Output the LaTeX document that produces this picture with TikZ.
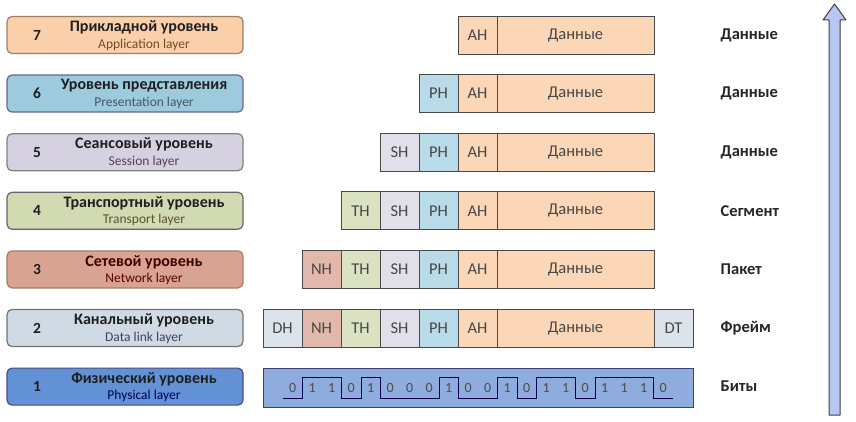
\documentclass[tikz,border=0pt]{standalone}
\usepackage{fontspec}
\setmainfont{Carlito}
\usepackage{tikz}
\usetikzlibrary{calc}

\definecolor{appfill}{HTML}{F9D0AA}
\definecolor{prefill}{HTML}{9DCADC}
\definecolor{sesfill}{HTML}{D5D1E1}
\definecolor{trafill}{HTML}{D2DAB2}
\definecolor{netfill}{HTML}{D9A392}
\definecolor{dlkfill}{HTML}{D0DAE5}
\definecolor{phyfill}{HTML}{6391D6}
\definecolor{ahcol}{HTML}{FBD7B8}
\definecolor{phcol}{HTML}{B9DAE8}
\definecolor{shcol}{HTML}{E2DFEA}
\definecolor{thcol}{HTML}{DAE2C2}
\definecolor{nhcol}{HTML}{E3B8AC}
\definecolor{dhcol}{HTML}{DDE3EA}
\definecolor{bitcol}{HTML}{8FACDF}
\definecolor{arrcol}{HTML}{B6C8F2}
\definecolor{edge}{HTML}{4A4A4A}

\begin{document}
\begin{tikzpicture}[x=1pt, y=-1pt, line width=0.8pt,
    layer/.style={draw=#1, rounded corners=5pt, minimum width=236pt, minimum height=37pt, inner sep=0pt, line width=1.2pt},
    title/.style={font=\fontsize{16}{18}\selectfont\bfseries, text=black!88},
    sub/.style={font=\fontsize{13.5}{15}\selectfont},
    num/.style={font=\fontsize{15.5}{17}\selectfont\bfseries, text=black!88},
    cell/.style={draw=edge, fill=#1, minimum width=39pt, minimum height=38pt, inner sep=0pt, font=\fontsize{16.5}{18}\selectfont, text=black!72},
    data/.style={cell=ahcol, minimum width=157pt},
    unit/.style={anchor=west, font=\fontsize{16.5}{18}\selectfont\bfseries, text=black!85}]
    \useasboundingbox (0,0) rectangle (856,422);

    % layers
    \node[layer=brown!45!gray, fill=appfill] (L7) at (125,35) {};
    \node[layer=gray!80!blue, fill=prefill] (L6) at (125,93.6) {};
    \node[layer=gray, fill=sesfill] (L5) at (125,152.2) {};
    \node[layer=gray!80!black, fill=trafill] (L4) at (125,210.8) {};
    \node[layer=brown!50!gray, fill=netfill] (L3) at (125,269.4) {};
    \node[layer=gray!90!black, fill=dlkfill] (L2) at (125,328) {};
    \node[layer=blue!30!black!70, fill=phyfill] (L1) at (125,386.6) {};

    \node[num] at (37,35) {7};
    \node[title] at (144,27.5) {Прикладной уровень};
    \node[sub, text=brown!60!black] at (144,44.5) {Application layer};
    \node[num] at (37,93.6) {6};
    \node[title] at (144,86.1) {Уровень представления};
    \node[sub, text=cyan!30!black] at (144,103.1) {Presentation layer};
    \node[num] at (37,152.2) {5};
    \node[title] at (144,144.7) {Сеансовый уровень};
    \node[sub, text=violet!25!black!75] at (144,161.7) {Session layer};
    \node[num] at (37,210.8) {4};
    \node[title] at (144,203.3) {Транспортный уровень};
    \node[sub, text=olive!50!black] at (144,220.3) {Transport layer};
    \node[num] at (37,269.4) {3};
    \node[title, text=red!25!black] at (144,261.9) {Сетевой уровень};
    \node[sub, text=red!35!black] at (144,278.9) {Network layer};
    \node[num] at (37,328) {2};
    \node[title] at (144,320.5) {Канальный уровень};
    \node[sub, text=blue!20!black!75] at (144,337.5) {Data link layer};
    \node[num] at (37,386.6) {1};
    \node[title] at (144,379.1) {Физический уровень};
    \node[sub, text=blue!35!black] at (144,396.1) {Physical layer};

    % headers
    \node[cell=ahcol] (ah7) at (477.5,35) {AH};
    \node[data] (d7) at (575.5,35) {Данные};

    \node[cell=phcol] (ph6) at (438.5,93.6) {PH};
    \node[cell=ahcol] (ah6) at (477.5,93.6) {AH};
    \node[data] (d6) at (575.5,93.6) {Данные};

    \node[cell=shcol] (sh5) at (399.5,152.2) {SH};
    \node[cell=phcol] (ph5) at (438.5,152.2) {PH};
    \node[cell=ahcol] (ah5) at (477.5,152.2) {AH};
    \node[data] (d5) at (575.5,152.2) {Данные};

    \node[cell=thcol] (th4) at (360.5,210.8) {TH};
    \node[cell=shcol] (sh4) at (399.5,210.8) {SH};
    \node[cell=phcol] (ph4) at (438.5,210.8) {PH};
    \node[cell=ahcol] (ah4) at (477.5,210.8) {AH};
    \node[data] (d4) at (575.5,210.8) {Данные};

    \node[cell=nhcol] (nh3) at (321.5,269.4) {NH};
    \node[cell=thcol] (th3) at (360.5,269.4) {TH};
    \node[cell=shcol] (sh3) at (399.5,269.4) {SH};
    \node[cell=phcol] (ph3) at (438.5,269.4) {PH};
    \node[cell=ahcol] (ah3) at (477.5,269.4) {AH};
    \node[data] (d3) at (575.5,269.4) {Данные};

    \node[cell=dhcol] (dh2) at (282.5,328) {DH};
    \node[cell=nhcol] (nh2) at (321.5,328) {NH};
    \node[cell=thcol] (th2) at (360.5,328) {TH};
    \node[cell=shcol] (sh2) at (399.5,328) {SH};
    \node[cell=phcol] (ph2) at (438.5,328) {PH};
    \node[cell=ahcol] (ah2) at (477.5,328) {AH};
    \node[data] (d2) at (575.5,328) {Данные};
    \node[cell=dhcol] (dt2) at (673.5,328) {DT};

    % bits
    \node[cell=bitcol, draw=blue!25!black!75, minimum width=430pt, minimum height=39pt] (b1) at (478,387.5) {};
    \draw[blue!30!black, line width=1pt] (283,398) -- (302.5,398) -- (302.5,377) -- (341.5,377) -- (341.5,398) -- (361,398) -- (361,377) -- (380.5,377) -- (380.5,398) -- (439,398) -- (439,377) -- (458.5,377) -- (458.5,398) -- (497.5,398) -- (497.5,377) -- (517,377) -- (517,398) -- (536.5,398) -- (536.5,377) -- (575.5,377) -- (575.5,398) -- (595,398) -- (595,377) -- (653.5,377) -- (653.5,398) -- (673,398);
    \foreach \b [count=\i from 0] in {0,1,1,0,1,0,0,0,1,0,0,1,0,1,1,0,1,1,1,0}
        \node[font=\fontsize{14}{16}\selectfont, text=black!70] at (292.75+19.5*\i,388) {\b};

    % units
    \node[unit] (u7) at (717,35) {Данные};
    \node[unit] (u6) at (717,93.6) {Данные};
    \node[unit] (u5) at (717,152.2) {Данные};
    \node[unit] (u4) at (717,210.8) {Сегмент};
    \node[unit] (u3) at (717,269.4) {Пакет};
    \node[unit] (u2) at (717,328) {Фрейм};
    \node[unit] (u1) at (717,386.6) {Биты};

    % arrow
    \filldraw[fill=arrcol, draw=black!75, line width=1pt, line join=round] (829,415) -- (829,20) -- (823,20) -- (834.5,4) -- (846,20) -- (840,20) -- (840,415) -- cycle;
\end{tikzpicture}
\end{document}
